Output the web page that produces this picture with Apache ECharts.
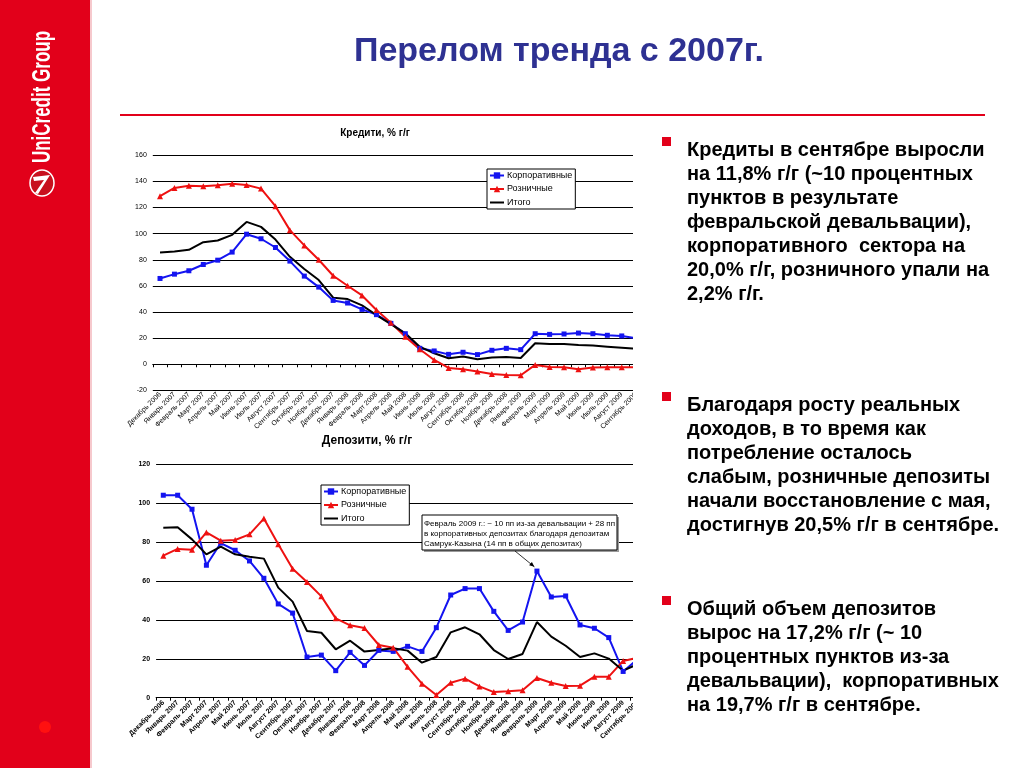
<!DOCTYPE html>
<html><head><meta charset="utf-8">
<script src="https://cdn.jsdelivr.net/npm/echarts@6/dist/echarts.min.js"></script>
<style>html,body{margin:0;padding:0;background:#fff}#c{width:1024px;height:768px}</style>
</head><body><div id="c"></div>
<script>
var months = ['Декабрь 2006','Январь 2007','Февраль 2007','Март 2007','Апрель 2007','Май 2007','Июнь 2007','Июль 2007','Август 2007','Сентябрь 2007','Октябрь 2007','Ноябрь 2007','Декабрь 2007','Январь 2008','Февраль 2008','Март 2008','Апрель 2008','Май 2008','Июнь 2008','Июль 2008','Август 2008','Сентябрь 2008','Октябрь 2008','Ноябрь 2008','Декабрь 2008','Январь 2009','Февраль 2009','Март 2009','Апрель 2009','Май 2009','Июнь 2009','Июль 2009','Август 2009','Сентябрь 2009'];
var seriesNames = ['Корпоративные','Розничные','Итого'];
var loanCorp = [65.7,69.0,71.6,76.4,79.7,85.9,99.6,96.1,89.4,79.0,67.5,59.1,48.9,46.9,42.0,38.0,31.3,23.4,12.2,10.2,7.6,9.2,7.4,10.7,12.2,11.2,23.4,22.9,23.2,23.9,23.4,22.2,21.7,20.0];
var loanRetail = [128.7,135.0,136.6,136.3,137.1,138.3,137.3,134.5,121.0,102.7,91.0,80.0,67.8,60.1,52.7,41.5,31.8,21.1,11.5,3.3,-2.8,-3.8,-5.6,-7.4,-8.2,-8.4,-0.5,-2.0,-2.3,-3.8,-2.5,-2.3,-2.3,-2.2];
var loanTotal = [85.6,86.4,87.6,93.5,94.8,99.1,109.0,105.2,95.5,82.3,72.9,64.5,51.0,49.9,45.1,37.7,30.8,23.7,13.5,8.4,4.6,5.9,3.8,5.1,5.6,4.8,16.1,15.5,15.5,14.8,14.3,13.5,12.7,11.8];
var depCorp = [104.1,104.1,96.9,68.1,79.5,75.8,70.3,61.4,48.2,43.5,20.9,21.9,13.9,23.3,16.6,24.3,23.8,26.4,23.8,36.0,52.8,56.1,56.1,44.4,34.6,38.9,65.1,51.8,52.3,37.4,35.7,30.9,13.5,19.7];
var depRetail = [73.0,76.5,76.1,85.0,80.7,81.1,84.0,92.1,78.9,66.3,59.5,52.1,40.8,37.2,35.8,27.1,25.7,15.9,7.2,1.4,7.7,9.8,5.8,2.9,3.3,3.8,10.1,7.7,6.0,6.2,10.8,10.8,18.9,20.5];
var depTotal = [87.4,87.6,81.4,73.7,77.7,73.7,72.5,71.5,56.6,49.4,34.3,33.4,24.9,29.3,23.7,24.5,25.4,24.2,18.0,20.9,33.6,36.2,32.6,24.5,19.9,22.5,38.9,31.4,26.7,20.9,22.8,20.1,13.9,17.2];
var loanTicks = {min:-20, max:160, interval:20};
var depTicks = {min:0, max:120, interval:20};
var annotIndex = 26;
var annotText = 'Февраль 2009 г.: ~ 10 пп из-за девальвации + 28 пп\nв корпоративных депозитах благодаря депозитам\nСамрук-Казына (14 пп в общих депозитах)';
var pageTitle = 'Перелом тренда с 2007г.';
var chartTitles = ['Кредити, % г/г','Депозити, % г/г'];
var bullets = [
 'Кредиты в сентябре выросли\nна 11,8% г/г (~10 процентных\nпунктов в результате\nфевральской девальвации),\nкорпоративного  сектора на\n20,0% г/г, розничного упали на\n2,2% г/г.',
 'Благодаря росту реальных\nдоходов, в то время как\nпотребление осталось\nслабым, розничные депозиты\nначали восстановление с мая,\nдостигнув 20,5% г/г в сентябре.',
 'Общий объем депозитов\nвырос на 17,2% г/г (~ 10\nпроцентных пунктов из-за\nдевальвации),  корпоративных\nна 19,7% г/г в сентябре.'
];

var FONT = '"Liberation Sans", Arial, sans-serif';
var BLUE = '#1414f0', RED = '#ee1111', BLACK = '#000';
var chart = echarts.init(document.getElementById('c'), null, {renderer:'canvas'});

function mkSeries(name, data, color, symbol, xi, yi) {
  return {type:'line', name:name, data:data, xAxisIndex:xi, yAxisIndex:yi,
    symbol: symbol || 'none', symbolSize: symbol==='triangle'?6:5, showSymbol: !!symbol,
    lineStyle:{color:color, width:2}, itemStyle:{color:color}, animation:false};
}
function legendCfg(left, top) {
  return {orient:'vertical', left:left, top:top,
    data:[{name:seriesNames[0]},{name:seriesNames[1]},{name:seriesNames[2], itemStyle:{opacity:0}}],
    backgroundColor:'#fff',
    borderColor:'#000', borderWidth:1, padding:[2,3,2,2], itemWidth:14, itemHeight:8, itemGap:4.5,
    textStyle:{fontSize:9, color:'#000', fontFamily:FONT, padding:[0,0,0,-2]}, selectedMode:false};
}

var option = {
  backgroundColor:'#fff',
  animation:false,
  textStyle:{fontFamily:FONT},
  grid:[
    {left:152.8, top:155.3, width:490.6, height:235.1, containLabel:false},
    {left:156.1, top:464.3, width:488.6, height:233.4, containLabel:false}
  ],
  xAxis:[
    {gridIndex:0, type:'category', data:months, boundaryGap:true,
     axisLine:{onZero:true, lineStyle:{color:'#000', width:1}},
     axisTick:{show:true, interval:0, length:3, lineStyle:{color:'#000'}}, axisLabel:{show:false, interval:0}, splitLine:{show:false}},
    {gridIndex:0, type:'category', data:months, boundaryGap:true, position:'bottom',
     axisLine:{show:false, onZero:false}, axisTick:{show:false},
     axisLabel:{interval:0, rotate:45, fontSize:7, color:'#000', margin:3, fontFamily:FONT}},
    {gridIndex:1, type:'category', data:months, boundaryGap:true,
     axisLine:{onZero:true, lineStyle:{color:'#000', width:1}},
     axisTick:{show:true, interval:0, length:3, lineStyle:{color:'#000'}},
     axisLabel:{interval:0, rotate:45, fontSize:7, fontWeight:'bold', color:'#000', margin:4, fontFamily:FONT}}
  ],
  yAxis:[
    {gridIndex:0, type:'value', min:loanTicks.min, max:loanTicks.max, interval:loanTicks.interval,
     axisLine:{show:false}, axisTick:{show:false},
     axisLabel:{fontSize:7, color:'#000', margin:6, fontFamily:FONT},
     splitLine:{lineStyle:{color:'#000', width:1}}},
    {gridIndex:1, type:'value', min:depTicks.min, max:depTicks.max, interval:depTicks.interval,
     axisLine:{show:false}, axisTick:{show:false},
     axisLabel:{fontSize:7, fontWeight:'bold', color:'#000', margin:6, fontFamily:FONT},
     splitLine:{lineStyle:{color:'#000', width:1}}}
  ],
  legend:[legendCfg(487, 169), legendCfg(321, 485)],
  series:[
    mkSeries(seriesNames[0], loanCorp, BLUE, 'rect', 0, 0),
    mkSeries(seriesNames[1], loanRetail, RED, 'triangle', 0, 0),
    mkSeries(seriesNames[2], loanTotal, BLACK, null, 0, 0),
    mkSeries(seriesNames[0], depCorp, BLUE, 'rect', 2, 1),
    mkSeries(seriesNames[1], depRetail, RED, 'triangle', 2, 1),
    mkSeries(seriesNames[2], depTotal, BLACK, null, 2, 1)
  ]
};
chart.setOption(option);

// graphics
var g = [];
// crop right side of chart picture
g.push({type:'rect', shape:{x:633, y:125, width:24, height:643}, style:{fill:'#fff'}, z:100});
// left red bar
g.push({type:'rect', shape:{x:0, y:0, width:90, height:768}, style:{fill:'#e2001a'}, z:101});
g.push({type:'rect', shape:{x:90, y:0, width:2, height:768}, style:{fill:'#f6c9cd'}, z:101});
g.push({type:'text', x:43, y:97, rotation:Math.PI/2, scaleX:0.68, z:102,
  style:{text:'UniCredit Group', fill:'#fff', font:'bold 25px "Liberation Sans", sans-serif', textAlign:'center', textVerticalAlign:'middle'}});
g.push({type:'ellipse', shape:{cx:42, cy:183, rx:12, ry:13}, z:102,
  style:{fill:'#c8101e', stroke:'#fff', lineWidth:1.5}});
g.push({type:'polygon', shape:{points:[[33,177],[50,175],[38,194],[35,193],[44,180],[34,181]]}, z:103, style:{fill:'#fff'}});
g.push({type:'circle', shape:{cx:45, cy:727, r:6}, z:102, style:{fill:'#ff1010'}});
// title
g.push({type:'text', x:559, y:52, z:102, style:{text:pageTitle, fill:'#2e3192', font:'bold 34px ' + FONT, textAlign:'center', textVerticalAlign:'middle'}});
g.push({type:'line', shape:{x1:120, y1:115, x2:985, y2:115}, z:102, style:{stroke:'#e2001a', lineWidth:2}});
// chart titles
g.push({type:'text', x:375, y:133, z:102, style:{text:chartTitles[0], fill:'#000', font:'bold 10px ' + FONT, textAlign:'center', textVerticalAlign:'middle'}});
g.push({type:'text', x:367, y:441, z:102, style:{text:chartTitles[1], fill:'#000', font:'bold 12px ' + FONT, textAlign:'center', textVerticalAlign:'middle'}});
// bullets
var btops = [138, 393, 597];
for (var i = 0; i < bullets.length; i++) {
  g.push({type:'rect', shape:{x:662, y:btops[i]-1, width:9, height:9}, z:102, style:{fill:'#e2001a'}});
  g.push({type:'text', x:687, y:btops[i], z:102, style:{text:bullets[i], fill:'#000', font:'bold 20px ' + FONT, lineHeight:24, textAlign:'left', textVerticalAlign:'top'}});
}
// annotation box
g.push({type:'rect', shape:{x:424, y:517, width:195, height:35}, z:102, style:{fill:'#9a9a9a'}});
g.push({type:'rect', shape:{x:422, y:515, width:195, height:35}, z:103, style:{fill:'#fff', stroke:'#000', lineWidth:1}});
g.push({type:'text', x:424, y:519, z:104, style:{text:annotText, fill:'#000', font:'8px ' + FONT, lineHeight:10, textAlign:'left', textVerticalAlign:'top'}});
// arrow to Feb 2009 corporate deposits point
var p = chart.convertToPixel({xAxisIndex:2, yAxisIndex:1}, [annotIndex, depCorp[annotIndex]]);
var sx = 515, sy = 551;
var ang = Math.atan2(p[1]-3 - sy, p[0]-1 - sx);
var ex = p[0]-1 - 2*Math.cos(ang), ey = p[1]-3 - 2*Math.sin(ang);
g.push({type:'line', shape:{x1:sx, y1:sy, x2:ex, y2:ey}, z:104, style:{stroke:'#000', lineWidth:0.8}});
var hl = 5, hw = 2.2;
var bx = ex - hl*Math.cos(ang), by = ey - hl*Math.sin(ang);
g.push({type:'polygon', z:104, shape:{points:[[ex,ey],[bx + hw*Math.sin(ang), by - hw*Math.cos(ang)],[bx - hw*Math.sin(ang), by + hw*Math.cos(ang)]]}, style:{fill:'#000'}});
chart.setOption({graphic:g});
</script></body></html>
